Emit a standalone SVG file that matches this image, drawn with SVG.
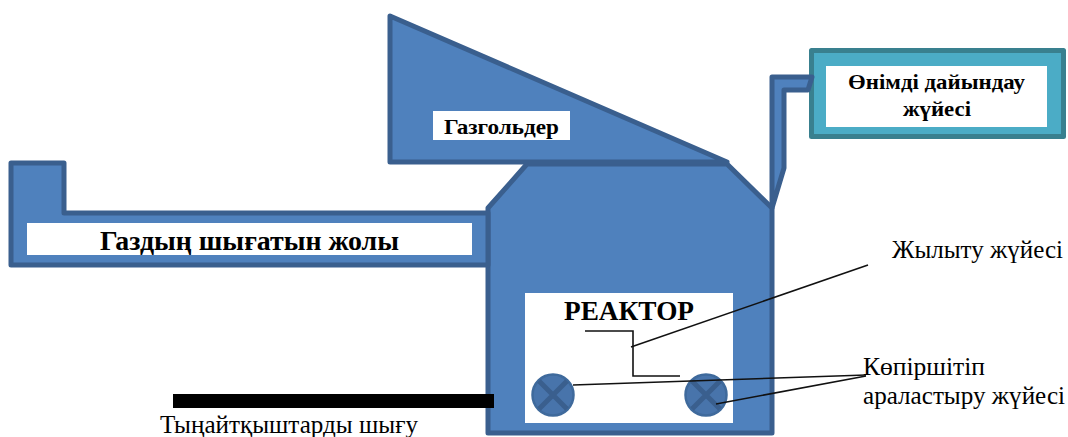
<svg xmlns="http://www.w3.org/2000/svg" width="1068" height="437" viewBox="0 0 1068 437">
<style>
.b{fill:#4f81bd;stroke:#3a5f8e;stroke-width:5;stroke-linejoin:round}
.w{fill:#fff}
.t{font-family:"Liberation Serif","Noto Sans CJK SC",serif;fill:#000}
.bd{font-weight:bold}
.l{fill:none;stroke:#111;stroke-width:1.6}
.x{stroke:#3a5f8e;stroke-width:5;fill:none}
.m{fill:#4874ab;stroke:#3f6a9c;stroke-width:2.5}
</style>
<rect width="1068" height="437" fill="#fff"/>
<g id="reactor">
<path class="b" d="M488 208L527 164H727L772 208V433H488Z"/>
<rect class="w" x="525" y="293" width="208" height="130"/>
<text class="t bd" x="564" y="320" font-size="27" textLength="130" lengthAdjust="spacingAndGlyphs">РЕАКТОР</text>
</g>
<g id="gas-outlet">
<path class="b" d="M11 163H64V213H488V265H11Z"/>
<rect class="w" x="27" y="223" width="445" height="32"/>
<text class="t bd" x="100" y="250" font-size="27" textLength="299" lengthAdjust="spacingAndGlyphs">Газдың шығатын жолы</text>
</g>
<g id="gasholder">
<path class="b" d="M390 16L727 162H390Z"/>
<rect class="w" x="433" y="111" width="137" height="29"/>
<text class="t bd" x="444" y="134" font-size="22" textLength="115" lengthAdjust="spacingAndGlyphs">Газгольдер</text>
</g>
<g id="product-system">
<rect x="811.5" y="50.5" width="252" height="86" fill="#4bacc6" stroke="#39808f" stroke-width="5" stroke-linejoin="round"/>
<rect class="w" x="826" y="66" width="221" height="61"/>
<text class="t bd" x="848" y="89" font-size="22" textLength="177" lengthAdjust="spacingAndGlyphs">Өнімді дайындау</text>
<text class="t bd" x="903" y="116" font-size="22" textLength="68" lengthAdjust="spacingAndGlyphs">жүйесі</text>
</g>
<g id="pipe-right">
<path class="b" d="M772 208V77H812L808 90H784V168Z"/>
</g>
<g id="mixer-left">
<circle class="m" cx="553" cy="395" r="20.5"/>
<path class="x" d="M539 381L567 409M567 381L539 409"/>
</g>
<g id="mixer-right">
<circle class="m" cx="706" cy="395" r="20.5"/>
<path class="x" d="M692 381L720 409M720 381L692 409"/>
</g>
<g id="drain">
<rect x="173" y="394" width="321" height="14" fill="#000"/>
<text class="t" x="160" y="433" font-size="25" textLength="258" lengthAdjust="spacingAndGlyphs">Тыңайтқыштарды шығу</text>
</g>
<g id="connectors">
<path class="l" d="M585 331H633V376H680"/>
<path class="l" d="M631 347L868 265"/>
<path class="l" d="M573 385L866 375"/>
<path class="l" d="M716 404L866 376"/>
</g>
<g id="labels">
<text class="t" x="892" y="258" font-size="25" textLength="171" lengthAdjust="spacingAndGlyphs">Жылыту жүйесі</text>
<text class="t" x="863" y="375" font-size="25" textLength="122" lengthAdjust="spacingAndGlyphs">Көпіршітіп</text>
<text class="t" x="863" y="404" font-size="25" textLength="202" lengthAdjust="spacingAndGlyphs">араластыру жүйесі</text>
</g>
</svg>
